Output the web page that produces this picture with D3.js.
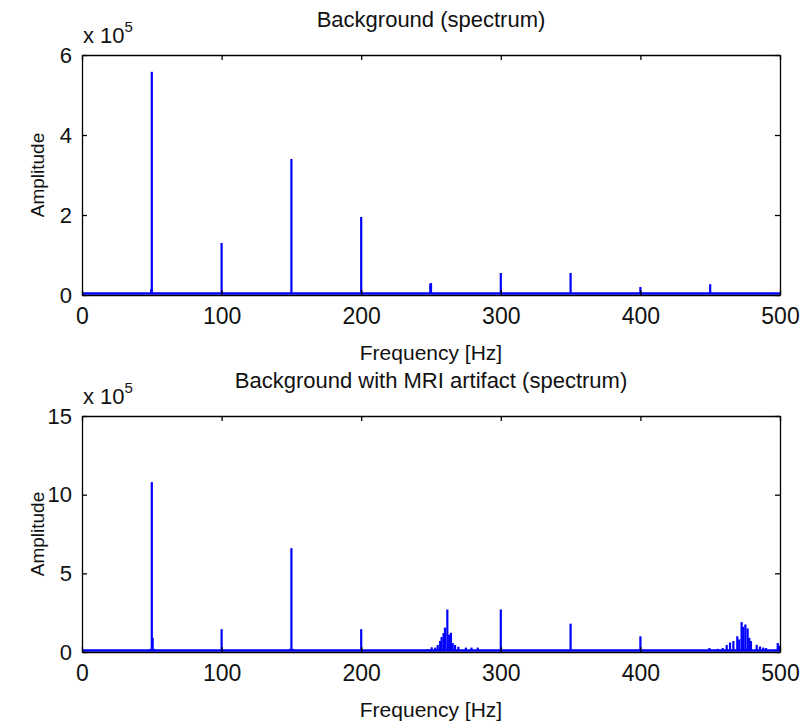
<!DOCTYPE html>
<html>
<head>
<meta charset="utf-8">
<script src="https://cdn.jsdelivr.net/npm/d3@7"></script>
<style>
  body { margin: 0; background: #fff; }
  svg { display: block; }
  text { font-family: "Liberation Sans", Arial, sans-serif; fill: #111; }
  .axis path, .axis line { stroke: #000; stroke-width: 1.3; }
</style>
</head>
<body>
<svg width="801" height="722"></svg>
<script>
// amplitudes in units of 1e5
var freqTicks = [0, 100, 200, 300, 400, 500];

var topTicks = [0, 2, 4, 6];
var topFreq = [49.6, 50, 100, 150, 200, 249.5, 250, 300, 350, 400, 450];
var topAmp  = [0.15, 5.58, 1.3, 3.4, 1.95, 0.28, 0.3, 0.55, 0.55, 0.2, 0.27];

var botTicks = [0, 5, 10, 15];
var botFreq = [49, 50, 50.6, 51.5, 100, 149, 150, 151, 200,
  248, 250.5, 253, 254.8, 256.5, 257.6, 259, 260, 261.7, 263, 264.3, 265.5, 267.2, 269.6, 275, 279, 283.5,
  300, 350, 400,
  449.4, 455.4, 459, 461.8, 464.2, 466.6, 469.4, 470.8, 472.5, 473.7, 475.2, 476.8, 478, 479.2, 483.3, 485.7, 488, 490, 498.4, 499.5];
var botAmp  = [0.2, 10.8, 0.9, 0.2, 1.45, 0.2, 6.6, 0.2, 1.45,
  0.17, 0.3, 0.28, 0.45, 0.7, 0.95, 1.2, 1.55, 2.7, 1.1, 1.22, 0.57, 0.45, 0.33, 0.28, 0.28, 0.28,
  2.7, 1.8, 1.0,
  0.25, 0.2, 0.25, 0.45, 0.6, 0.7, 1.0, 0.8, 1.9, 1.6, 1.75, 1.5, 0.9, 0.7, 0.45, 0.35, 0.28, 0.25, 0.57, 0.4];

var svg = d3.select("svg");
var blue = "#0000ff";

function drawPanel(opt) {
  var x = d3.scaleLinear().domain([0, 500]).range([82, 780]),
      y = d3.scaleLinear().domain([0, opt.ymax]).range([opt.bottom, opt.top]);

  var g = svg.append("g");

  // baseline noise floor
  g.append("line")
    .attr("x1", x(0)).attr("x2", x(500))
    .attr("y1", y(0) - 1.5).attr("y2", y(0) - 1.5)
    .attr("stroke", blue).attr("stroke-width", 2.5);

  // spectral lines
  g.selectAll(".stem")
    .data(d3.zip(opt.freq, opt.amp))
    .enter().append("line")
      .attr("class", "stem")
      .attr("x1", function(d) { return x(d[0]); })
      .attr("x2", function(d) { return x(d[0]); })
      .attr("y1", y(0) - 1)
      .attr("y2", function(d) { return y(d[1]); })
      .attr("stroke", blue)
      .attr("stroke-width", 2.2);

  // axes, ticks pointing inward
  g.append("g").attr("class", "axis")
    .attr("transform", "translate(0," + opt.bottom + ")")
    .call(d3.axisBottom(x).tickValues(freqTicks).tickSizeInner(-5).tickSizeOuter(0).tickPadding(13))
    .call(function(a) { a.selectAll("text").style("font-size", "23px"); });
  g.append("g").attr("class", "axis")
    .attr("transform", "translate(0," + opt.top + ")")
    .call(d3.axisTop(x).tickValues(freqTicks).tickSizeInner(-5).tickSizeOuter(0).tickFormat(""));
  g.append("g").attr("class", "axis")
    .attr("transform", "translate(82,0)")
    .call(d3.axisLeft(y).tickValues(opt.ticks).tickSizeInner(-5).tickSizeOuter(0).tickPadding(10)
      .tickFormat(d3.format("d")))
    .call(function(a) { a.selectAll("text").style("font-size", "22px"); });
  g.append("g").attr("class", "axis")
    .attr("transform", "translate(780,0)")
    .call(d3.axisRight(y).tickValues(opt.ticks).tickSizeInner(-5).tickSizeOuter(0).tickFormat(""));
  g.selectAll(".axis .domain").attr("stroke", "#000");

  // exponent
  var ex = g.append("text").attr("x", 83).attr("y", opt.top - 12).style("font-size", "22px");
  ex.append("tspan").text("x 10");
  ex.append("tspan").attr("dy", -11).style("font-size", "15px").text("5");

  g.append("text")
    .attr("x", 431).attr("y", opt.top - 28)
    .attr("text-anchor", "middle").style("font-size", "22px")
    .text(opt.title);

  g.append("text")
    .attr("x", 431).attr("y", opt.bottom + 65)
    .attr("text-anchor", "middle").style("font-size", "21px")
    .text("Frequency [Hz]");

  g.append("text")
    .attr("transform", "translate(44," + ((opt.top + opt.bottom) / 2) + ") rotate(-90)")
    .attr("text-anchor", "middle").style("font-size", "19px")
    .text("Amplitude");
}

drawPanel({ top: 55, bottom: 295, ymax: 6, ticks: topTicks, freq: topFreq, amp: topAmp,
            title: "Background (spectrum)" });
drawPanel({ top: 416, bottom: 652, ymax: 15, ticks: botTicks, freq: botFreq, amp: botAmp,
            title: "Background with MRI artifact (spectrum)" });
</script>
</body>
</html>
